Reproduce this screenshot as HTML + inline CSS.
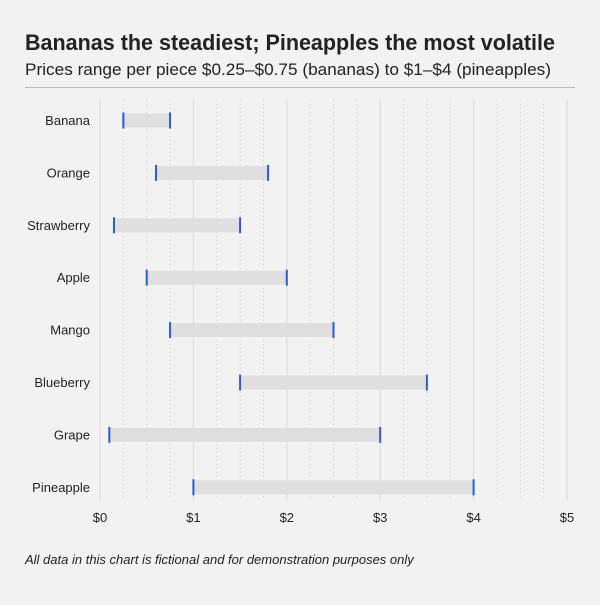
<!DOCTYPE html>
<html><head><style>body{margin:0;background:#f2f2f2}</style></head><body>
<svg width="600" height="600" xmlns="http://www.w3.org/2000/svg" font-family="Liberation Sans, sans-serif">
<rect width="600" height="600" fill="#f2f2f2"/>
<text x="25" y="50" font-size="22" font-weight="bold" fill="#222" textLength="530" lengthAdjust="spacingAndGlyphs">Bananas the steadiest; Pineapples the most volatile</text>
<text x="25" y="75" font-size="17" fill="#222" textLength="526" lengthAdjust="spacingAndGlyphs">Prices range per piece $0.25–$0.75 (bananas) to $1–$4 (pineapples)</text>
<line x1="25" y1="87.5" x2="575" y2="87.5" stroke="#bbb"/>
<g id="grid"></g>
<g id="rows"></g>
<text x="25" y="564" font-size="13" font-style="italic" fill="#222">All data in this chart is fictional and for demonstration purposes only</text>
<script>
var g=document.getElementById('grid'),r=document.getElementById('rows'),ns='http://www.w3.org/2000/svg';
function X(v){return 100+v*93.4}
function el(p,t,a,txt){var e=document.createElementNS(ns,t);for(var k in a)e.setAttribute(k,a[k]);if(txt)e.textContent=txt;p.appendChild(e);return e}
for(var i=0;i<=20;i++){var x=X(i/4);if(i%4==0){el(g,'line',{x1:x,x2:x,y1:100,y2:500,stroke:'#d8d8d8','stroke-width':1});el(g,'text',{x:x,y:522,'font-size':13,'text-anchor':'middle',fill:'#222'},'$'+i/4)}else el(g,'line',{x1:x,x2:x,y1:100,y2:500,stroke:'#d4d4d4','stroke-width':1,'stroke-dasharray':'1,3'})}
var d=[['Banana',.25,.75],['Orange',.6,1.8],['Strawberry',.15,1.5],['Apple',.5,2],['Mango',.75,2.5],['Blueberry',1.5,3.5],['Grape',.1,3],['Pineapple',1,4]];
d.forEach(function(a,i){var y=120.5+i*52.4;el(r,'text',{x:90,y:y+4.5,'font-size':13,'text-anchor':'end',fill:'#222'},a[0]);
el(r,'rect',{x:X(a[1]),y:y-7,width:X(a[2])-X(a[1]),height:14,fill:'#dfdfdf'});
[a[1],a[2]].forEach(function(v){el(r,'rect',{x:X(v)-1,y:y-8,width:2,height:16,fill:'#2a5bd7'})})});
</script>
</svg>
</body></html>
